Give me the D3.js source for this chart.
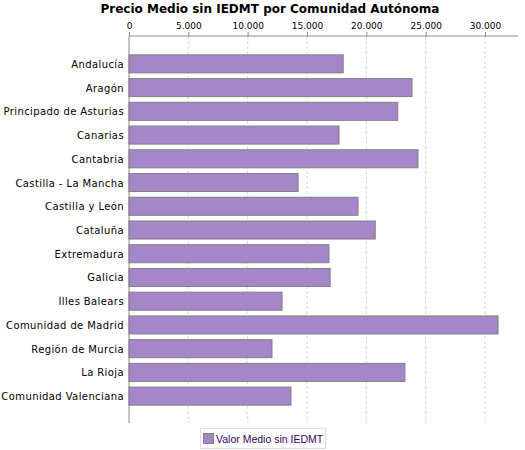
<!DOCTYPE html>
<html><head><meta charset="utf-8">
<script src="https://cdn.jsdelivr.net/npm/d3@7"></script>
<style>body{margin:0;background:#fff}text{font-family:"DejaVu Sans",sans-serif}</style>
</head><body><svg id="c" width="525" height="450"></svg>
<script>
const regions = ['Andalucía','Aragón','Principado de Asturias','Canarias','Cantabria','Castilla - La Mancha','Castilla y León','Cataluña','Extremadura','Galicia','Illes Balears','Comunidad de Madrid','Región de Murcia','La Rioja','Comunidad Valenciana'];
const values = [18050,23850,22650,17700,24350,14250,19300,20750,16850,16950,12900,31100,12050,23250,13650];
const ticks = [0,5000,10000,15000,20000,25000,30000];

const svg = d3.select('#c');
const x = d3.scaleLinear().domain([0,30000]).range([129,485]);
const y = d3.scaleBand().domain(regions).range([52,408]).paddingInner(0.24).paddingOuter(0.12);
const fmt = d => d3.format(',')(d).replace(/,/g,'.');

svg.append('text').attr('x',270).attr('y',13).attr('text-anchor','middle')
  .style('font-size','12px').style('font-weight','bold').text('Precio Medio sin IEDMT por Comunidad Autónoma');

// grid
svg.append('g').selectAll('line').data(ticks.slice(1)).join('line')
  .attr('x1',d=>x(d)).attr('x2',d=>x(d)).attr('y1',36).attr('y2',423)
  .attr('stroke','#d8d8d8').attr('stroke-dasharray','3 2');

// top axis
const ax = svg.append('g').attr('transform','translate(0,36)')
  .call(d3.axisTop(x).tickValues(ticks).tickFormat(fmt).tickSize(4));
ax.select('.domain').attr('d','M129,0H518').attr('stroke','#888');
ax.selectAll('.tick line').attr('stroke','#888');
ax.selectAll('text').style('font-size','9px').attr('fill','#000');

svg.append('line').attr('x1',129).attr('x2',129).attr('y1',36).attr('y2',423).attr('stroke','#888');

svg.append('g').selectAll('text').data(regions).join('text')
  .attr('x',124).attr('y',d=>y(d)+y.bandwidth()/2+4).attr('text-anchor','end')
  .style('font-size','10px').style('letter-spacing','0.4px').text(d=>d);

svg.append('g').selectAll('rect').data(values).join('rect')
  .attr('x',x(0)).attr('y',(d,i)=>y(regions[i]))
  .attr('width',d=>x(d)-x(0)).attr('height',y.bandwidth())
  .attr('fill','#a586c8').attr('stroke','#808080');

// legend
svg.append('rect').attr('x',200.5).attr('y',428.5).attr('width',125).attr('height',20)
  .attr('fill','#fff').attr('stroke','#ddd');
svg.append('rect').attr('x',203.5).attr('y',433.5).attr('width',10).attr('height',10)
  .attr('fill','#a586c8').attr('stroke','#808080');
svg.append('text').attr('x',216).attr('y',443).style('font-size','10.5px')
  .style('font-family','"Liberation Sans",sans-serif').attr('fill','#330066').text('Valor Medio sin IEDMT');
</script></body></html>
